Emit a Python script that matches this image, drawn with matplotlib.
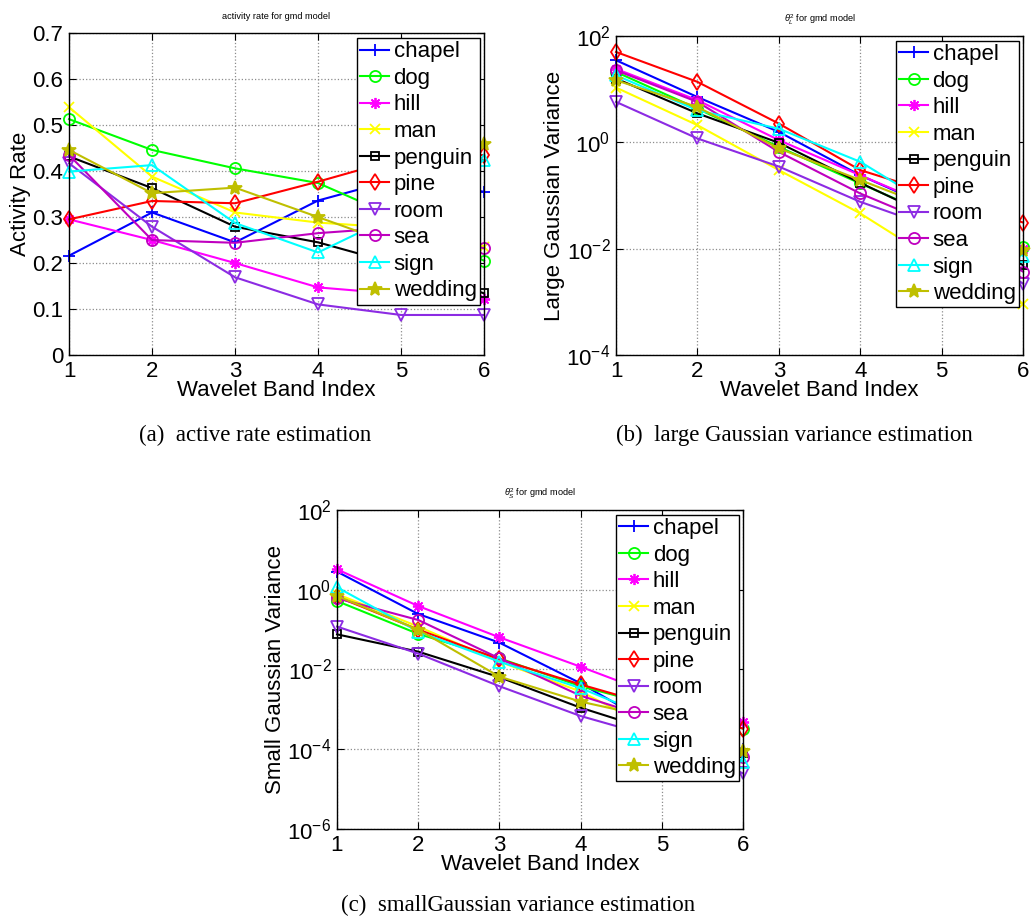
import matplotlib
matplotlib.use("Agg")
import matplotlib.pyplot as plt
import numpy as np

plt.rcParams['font.family'] = ['Liberation Sans', 'DejaVu Sans']
plt.rcParams['mathtext.fontset'] = 'custom'
plt.rcParams['mathtext.rm'] = 'Liberation Sans'
plt.rcParams['mathtext.it'] = 'Liberation Sans:italic'

bands = [1, 2, 3, 4, 5, 6]
names = ["chapel", "dog", "hill", "man", "penguin", "pine", "room", "sea", "sign", "wedding"]

# activity rate per wavelet band
rate_chapel = [0.216, 0.310, 0.245, 0.336, 0.385, 0.355]
rate_dog = [0.513, 0.446, 0.406, 0.374, 0.295, 0.205]
rate_hill = [0.295, 0.250, 0.200, 0.147, 0.132, 0.122]
rate_man = [0.539, 0.388, 0.310, 0.288, 0.276, 0.235]
rate_penguin = [0.432, 0.363, 0.279, 0.245, 0.195, 0.134]
rate_pine = [0.295, 0.335, 0.330, 0.377, 0.428, 0.435]
rate_room = [0.417, 0.279, 0.169, 0.110, 0.087, 0.087]
rate_sea = [0.435, 0.250, 0.244, 0.265, 0.278, 0.232]
rate_sign = [0.399, 0.413, 0.287, 0.223, 0.310, 0.424]
rate_wedding = [0.446, 0.352, 0.364, 0.300, 0.235, 0.459]

# large gaussian variance theta_L^2
large_chapel = [34.9, 7.1, 1.57, 0.24, 0.05, 0.0095]
large_dog = [21.0, 4.3, 0.82, 0.168, 0.036, 0.0109]
large_hill = [24.0, 6.2, 1.1, 0.24, 0.054, 0.010]
large_man = [10.7, 2.1, 0.30, 0.046, 0.005, 0.00091]
large_penguin = [15.8, 3.5, 0.98, 0.173, 0.033, 0.0049]
large_pine = [50.0, 13.7, 2.25, 0.30, 0.10, 0.031]
large_room = [5.75, 1.18, 0.35, 0.076, 0.022, 0.0022]
large_sea = [22.6, 5.75, 0.66, 0.109, 0.025, 0.0037]
large_sign = [18.2, 4.0, 1.8, 0.43, 0.05, 0.0073]
large_wedding = [14.7, 4.6, 0.77, 0.195, 0.05, 0.0094]

# small gaussian variance theta_S^2
small_chapel = [2.84, 0.246, 0.047, 0.0045, 0.0003, 0.0001]
small_dog = [0.52, 0.078, 0.019, 0.0038, 0.0011, 0.00033]
small_hill = [3.25, 0.39, 0.064, 0.0117, 0.002, 0.00049]
small_man = [0.78, 0.119, 0.0157, 0.0028, 0.00025, 0.00008]
small_penguin = [0.076, 0.028, 0.0064, 0.0011, 0.00025, 0.00008]
small_pine = [0.67, 0.10, 0.018, 0.0042, 0.0011, 0.00033]
small_room = [0.119, 0.025, 0.0038, 0.00068, 0.00018, 0.0000248]
small_sea = [0.61, 0.174, 0.019, 0.0022, 0.0005, 0.000065]
small_sign = [1.15, 0.089, 0.0157, 0.0034, 0.0005, 0.000049]
small_wedding = [0.70, 0.10, 0.0066, 0.00156, 0.00056, 0.00009]

rate = [rate_chapel, rate_dog, rate_hill, rate_man, rate_penguin,
        rate_pine, rate_room, rate_sea, rate_sign, rate_wedding]
large = [large_chapel, large_dog, large_hill, large_man, large_penguin,
         large_pine, large_room, large_sea, large_sign, large_wedding]
small = [small_chapel, small_dog, small_hill, small_man, small_penguin,
         small_pine, small_room, small_sea, small_sign, small_wedding]

colors = [(0, 0, 1), (0, 1, 0), (1, 0, 1), (1, 1, 0), (0, 0, 0),
          (1, 0, 0), (0.55, 0.17, 0.89), (0.75, 0, 0.75), (0, 1, 1), (0.75, 0.75, 0)]
markers = ['+', 'o', (8, 2, 0), 'x', 's', 'd', 'v', 'o', '^', '*']
msizes = [9, 8, 8, 7, 6, 8, 8, 8, 8, 10]

fig = plt.figure(figsize=(10.35, 9.22), dpi=100)


def draw(ax, series, ylabel, title, log=False):
    for i, s in enumerate(series):
        filled = markers[i] == '*'
        ax.plot(bands, s, color=colors[i], marker=markers[i], markersize=msizes[i],
                markerfacecolor=colors[i] if filled else 'none',
                markeredgecolor=colors[i], markeredgewidth=1.3,
                linewidth=1.5, label=names[i], clip_on=False)
    if log:
        ax.set_yscale('log')
        ax.minorticks_off()
    ax.set_xlim(1, 6)
    ax.set_xticks(bands)
    ax.grid(True, linestyle=':', color='0.55', linewidth=0.9)
    ax.tick_params(direction='in', top=True, right=True, labelsize=16, length=5, pad=4)
    for sp in ax.spines.values():
        sp.set_linewidth(1.0)
    ax.set_xlabel("Wavelet Band Index", fontsize=16, labelpad=-1)
    ax.set_ylabel(ylabel, fontsize=16, labelpad=1)
    ax.set_title(title, fontsize=6.6, pad=10)
    leg = ax.legend(loc='upper right', bbox_to_anchor=(0.99, 0.985), borderaxespad=0,
                    fontsize=16, handlelength=1.3, handletextpad=0.2, labelspacing=0.25,
                    borderpad=0.15, fancybox=False, framealpha=1, edgecolor='black')
    leg.get_frame().set_linewidth(1.0)


ax_a = fig.add_axes([0.0667, 0.615, 0.401, 0.349])
draw(ax_a, rate, "Activity Rate", "activity rate for gmd model")
ax_a.set_ylim(0, 0.7)
ax_a.set_yticks([0, 0.1, 0.2, 0.3, 0.4, 0.5, 0.6, 0.7])
ax_a.set_yticklabels(["0", "0.1", "0.2", "0.3", "0.4", "0.5", "0.6", "0.7"])

ax_b = fig.add_axes([0.5952, 0.615, 0.3932, 0.346])
draw(ax_b, large, "Large Gaussian Variance", r"$\theta_L^2$ for gmd model", log=True)
ax_b.set_ylim(1e-4, 1e2)
ax_b.set_yticks([1e-4, 1e-2, 1e0, 1e2])

ax_c = fig.add_axes([0.3256, 0.1009, 0.3923, 0.346])
draw(ax_c, small, "Small Gaussian Variance", r"$\theta_S^2$ for gmd model", log=True)
ax_c.set_ylim(1e-6, 1e2)
ax_c.set_yticks([1e-6, 1e-4, 1e-2, 1e0, 1e2])

cap = dict(fontsize=16.5, family=['Liberation Serif', 'DejaVu Serif'], ha='center', va='center')
fig.text(255 / 1035, 1 - 435 / 922, "(a)  active rate estimation", **cap)
fig.text(794 / 1035, 1 - 435 / 922, "(b)  large Gaussian variance estimation", **cap)
fig.text(518 / 1035, 1 - 905 / 922, "(c)  smallGaussian variance estimation", **cap)

fig.savefig("out.png", dpi=100)
